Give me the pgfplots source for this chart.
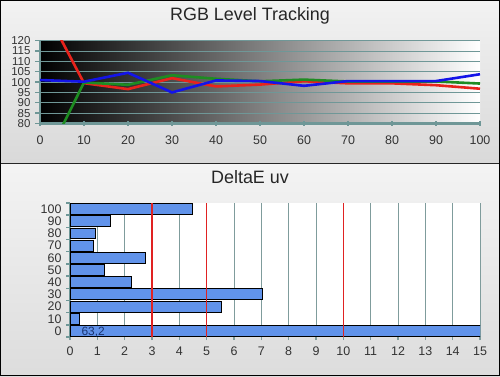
\documentclass[border=0pt]{standalone}
\usepackage{pgfplots}
\pgfplotsset{compat=1.18}
\usepackage{fontspec}
\setmainfont{Liberation Sans}
\definecolor{axteal}{HTML}{6F9797}
\definecolor{gridgray}{HTML}{7F9C9C}
\definecolor{barblue}{HTML}{6193EA}
\definecolor{lred}{HTML}{E8231C}
\definecolor{lgreen}{HTML}{1E8C22}
\definecolor{lblue}{HTML}{1414E8}
\definecolor{vred}{HTML}{E02222}
\definecolor{lblabel}{HTML}{1A3470}
\begin{document}
\begin{tikzpicture}[x=1bp,y=1bp]
\useasboundingbox (0,0) rectangle (500,376);
\shade[top color=gray!10, bottom color=gray!30] (0,213) rectangle (500,376);
\shade[top color=gray!9, bottom color=gray!27] (0,0) rectangle (500,213);
\draw[line width=1bp, black!85] (0,213) -- (500,213);
\draw[line width=1bp] (0.5,0.5) rectangle (499.5,375.5);
\node[font=\fontsize{18}{20}\selectfont, text=black!85] at (250,360) {RGB Level Tracking};
\node[font=\fontsize{18}{20}\selectfont, text=black!85] at (250,199) {DeltaE uv};

\begin{axis}[
  at={(40bp,252.5bp)}, anchor=south west,
  scale only axis, width=440bp, height=82.8bp,
  xmin=0, xmax=100, ymin=80, ymax=120,
  xtick={0,10,...,100}, ytick={80,85,...,120},
  axis x line*=bottom, axis y line*=left,
  axis line style={axteal, line width=2.2bp},
  ymajorgrids, grid style={axteal, line width=1bp},
  major tick length=5bp,
  xtick style={axteal, line width=1.6bp},
  ytick style={axteal, line width=1.4bp},
  x tick label style={yshift=-6bp, font=\fontsize{12.5}{12}\selectfont},
  y tick label style={font=\fontsize{11.5}{11}\selectfont, inner ysep=0pt, xshift=-1bp},
  ytick align=outside, xtick align=center,
  tick label style={text=black!80},
  /pgf/number format/assume math mode=true,
  axis background/.style={shade, left color=black, right color=white},
]
\addplot[lred, line width=2.6bp, sharp plot] coordinates {(0,140) (10,99.5) (20,96.6) (30,101.9) (40,97.9) (50,98.8) (60,100.4) (70,99.4) (80,99.4) (90,98.5) (100,96.8)};
\addplot[lgreen, line width=2.6bp, sharp plot] coordinates {(0,57) (10,99.8) (20,98.7) (30,103.3) (40,101.6) (50,100.4) (60,101.2) (70,100.3) (80,100.2) (90,100.3) (100,99.3)};
\addplot[lblue, line width=2.6bp, sharp plot] coordinates {(0,101) (10,100.2) (20,104.5) (30,95) (40,100.8) (50,100.5) (60,98.2) (70,100.5) (80,100.5) (90,100.5) (100,103.8)};
\end{axis}

\begin{axis}[
  at={(70bp,39bp)}, anchor=south west,
  scale only axis, width=410bp, height=134bp,
  xmin=0, xmax=15, ymin=-0.5, ymax=10.5,
  xtick={0,1,2,4,6,7,8,9,11,12,13,14,15}, ytick={0,...,10},
  extra x ticks={3,5,10},
  extra x tick style={grid=none},
  yticklabels={0,10,20,30,40,50,60,70,80,90,100},
  minor ytick={-0.5,0.5,...,10.5},
  axis x line*=bottom, axis y line*=left,
  x axis line style={draw=none},
  y axis line style={axteal, line width=2.2bp},
  xmajorgrids, grid style={gridgray, line width=1bp},
  xtick align=outside, ytick align=outside,
  major tick length=3bp, minor tick length=4bp,
  xtick style={gridgray, line width=1.2bp},
  ytick style={axteal, line width=1.4bp},
  major y tick style={draw=none},
  x tick label style={yshift=-3bp},
  y tick label style={inner ysep=0pt, xshift=-2bp},
  tick label style={font=\fontsize{12.5}{12}\selectfont, text=black!80},
  /pgf/number format/assume math mode=true,
  axis background/.style={fill=white},
]
\addplot[xbar, bar width=0.9, bar shift=0pt, fill=barblue, draw=black, line width=0.9bp] coordinates {(63.2,0) (0.34,1) (5.54,2) (7.05,3) (2.26,4) (1.26,5) (2.77,6) (0.87,7) (0.94,8) (1.48,9) (4.47,10)};
\addplot[draw=vred, line width=1.3bp, forget plot] coordinates {(3,-0.5) (3,10.5)};
\addplot[draw=vred, line width=1.3bp, forget plot] coordinates {(5,-0.5) (5,10.5)};
\addplot[draw=vred, line width=1.3bp, forget plot] coordinates {(10,-0.5) (10,10.5)};
\node[font=\fontsize{12}{12}\selectfont, text=lblabel] at (axis cs:0.85,-0.12) {63,2};
\end{axis}
\end{tikzpicture}
\end{document}
